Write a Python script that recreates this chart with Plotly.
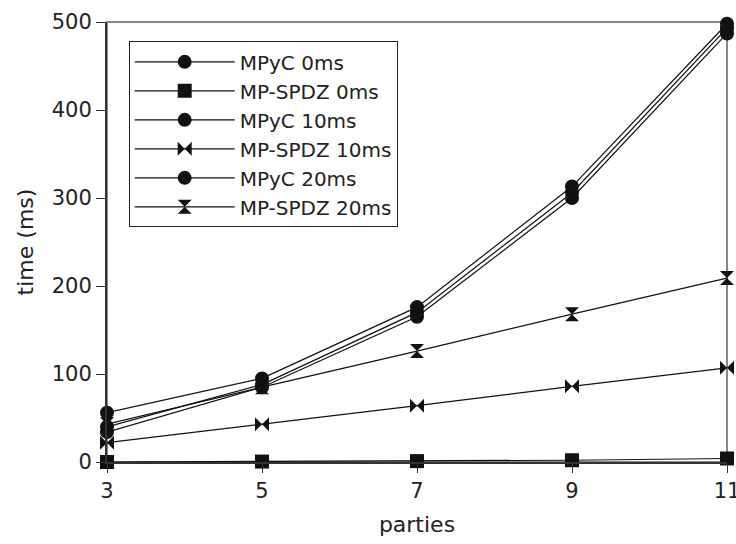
import plotly.graph_objects as go

parties = [3, 5, 7, 9, 11]
mpyc_0ms = [34, 85, 165, 300, 487]
mpspdz_0ms = [0, 0.5, 1, 2, 4]
mpyc_10ms = [40, 88, 170, 306, 493]
mpspdz_10ms = [22, 43, 64, 86, 107]
mpyc_20ms = [56, 95, 176, 313, 498]
mpspdz_20ms = [43, 85, 126, 168, 209]

series = [
    ("MPyC 0ms", mpyc_0ms, "circle"),
    ("MP-SPDZ 0ms", mpspdz_0ms, "square"),
    ("MPyC 10ms", mpyc_10ms, "circle"),
    ("MP-SPDZ 10ms", mpspdz_10ms, "bowtie"),
    ("MPyC 20ms", mpyc_20ms, "circle"),
    ("MP-SPDZ 20ms", mpspdz_20ms, "hourglass"),
]

FONT = "DejaVu Sans"
INK = "#111111"

fig = go.Figure()
for name, ys, sym in series:
    fig.add_trace(go.Scatter(
        x=parties, y=ys, name=name, mode="lines+markers",
        line=dict(color=INK, width=1.2),
        marker=dict(symbol=sym, size=14, color=INK, line=dict(width=0)),
        cliponaxis=False,
    ))

fig.update_layout(
    width=736, height=544,
    margin=dict(l=107, r=9, t=22, b=82, autoexpand=False),
    paper_bgcolor="white", plot_bgcolor="white",
    font=dict(family=FONT, size=21, color="#222222"),
    showlegend=True,
    legend=dict(
        x=0.035, y=0.956, xanchor="left", yanchor="top",
        bordercolor="#222222", borderwidth=1, bgcolor="white",
        font=dict(family=FONT, size=20, color="#222222"),
        itemwidth=100, tracegroupgap=0,
    ),
    shapes=[dict(type="rect", xref="paper", yref="paper", x0=0, y0=0, x1=1, y1=1,
                 line=dict(color="#888888", width=2), layer="below")],
)
fig.update_xaxes(
    range=[3, 11], tickvals=parties, ticktext=[str(p) for p in parties],
    showgrid=False, zeroline=False, showline=True, linecolor="#333333", linewidth=2,
    ticks="outside", ticklen=9, tickcolor="#333333", tickwidth=1,
    ticklabeloverflow="allow", automargin=False,
    title=dict(text="parties", font=dict(size=22), standoff=14),
    tickfont=dict(size=21),
)
fig.update_yaxes(
    range=[0, 500], tickvals=[0, 100, 200, 300, 400, 500],
    showgrid=False, zeroline=False, showline=True, linecolor="#333333", linewidth=2,
    ticks="outside", ticklen=9, tickcolor="#333333", tickwidth=1,
    ticklabeloverflow="allow", automargin=False,
    title=dict(text="time (ms)", font=dict(size=22), standoff=12),
    tickfont=dict(size=21),
)

fig.write_html("out.html")
